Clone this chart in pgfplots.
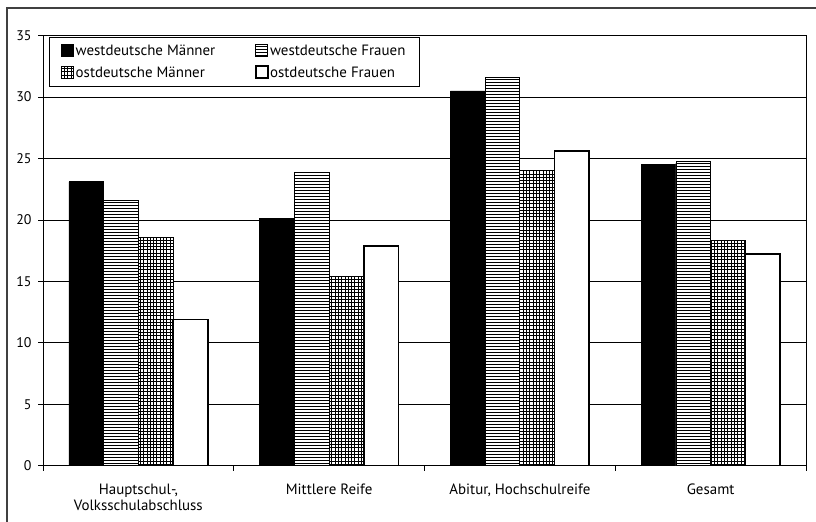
\documentclass[border=0pt]{standalone}
\usepackage{pgfplots}
\pgfplotsset{compat=1.18}
\usetikzlibrary{patterns}
\usepackage{fontspec}
\setmainfont{PT Sans}
\pgfdeclarepatternformonly{hstripes}{\pgfpoint{-1bp}{0bp}}{\pgfpoint{5bp}{3bp}}{\pgfpoint{4bp}{3bp}}{%
  \pgfsetlinewidth{1.4bp}%
  \pgfpathmoveto{\pgfpoint{-1bp}{1.5bp}}\pgfpathlineto{\pgfpoint{5bp}{1.5bp}}\pgfusepath{stroke}}
\pgfdeclarepatternformonly{fgrid}{\pgfpoint{-1bp}{-1bp}}{\pgfpoint{4.3bp}{4.3bp}}{\pgfpoint{3.3bp}{3.3bp}}{%
  \pgfsetlinewidth{0.6bp}%
  \pgfpathmoveto{\pgfpoint{-0.5bp}{1.65bp}}\pgfpathlineto{\pgfpoint{3.8bp}{1.65bp}}%
  \pgfpathmoveto{\pgfpoint{1.65bp}{-0.5bp}}\pgfpathlineto{\pgfpoint{1.65bp}{3.8bp}}\pgfusepath{stroke}}
\pgfplotsset{sqlegend/.style={legend image code/.code={\draw[##1] (0bp,-5bp) rectangle (12bp,7bp);}}}
\begin{document}
\begin{tikzpicture}[x=1bp,y=1bp]
\useasboundingbox (0,0) rectangle (816,522);
\draw[line width=1.2bp, black!75] (7,-10) rectangle (830,514);
\begin{axis}[
  at={(43bp,56.3bp)}, anchor=south west,
  scale only axis, width=763bp, height=430bp,
  xmin=0, xmax=4, ymin=0, ymax=35,
  ytick={0,5,...,35},
  xtick={0,1,2,3,4}, xticklabels={},
  extra x ticks={0.5,1.5,2.5,3.5},
  extra x tick labels={{Hauptschul-,\\Volksschulabschluss},{Mittlere Reife},{Abitur, Hochschulreife},{Gesamt}},
  extra x tick style={major tick length=0pt},
  xticklabel style={align=center, font=\fontsize{15}{15.5}\selectfont, yshift=-15bp},
  yticklabel style={font=\fontsize{14}{16}\selectfont, xshift=-3bp},
  ytick pos=left, xtick pos=bottom,
  tick align=outside, major tick length=5bp,
  tick style={black, line width=0.8bp},
  ymajorgrids, grid style={black, line width=0.8bp},
  axis line style={black, line width=0.8bp},
  /pgf/number format/assume math mode=true,
  ybar=0pt, bar width=34.7bp,
  legend columns=2,
  legend cell align=left,
  legend style={at={(0.0079,0.996)}, anchor=north west, draw=black, line width=0.8bp,
    font=\fontsize{15}{16}\selectfont, row sep=7bp, inner xsep=12bp, inner ysep=6bp,
    nodes={inner xsep=1.5bp, inner ysep=1bp},
    /tikz/every odd column/.append style={column sep=0bp},
    /tikz/every even column/.append style={column sep=38bp}},
]
\addplot[draw=black, fill=black, line width=0.8bp, sqlegend]
  coordinates {(0.5,23.1) (1.5,20.1) (2.5,30.5) (3.5,24.5)};
\addplot[draw=black, line width=0.8bp, preaction={fill=white}, pattern=hstripes, pattern color=black, sqlegend]
  coordinates {(0.5,21.6) (1.5,23.9) (2.5,31.6) (3.5,24.8)};
\addplot[draw=black, line width=0.8bp, preaction={fill=white}, pattern=fgrid, pattern color=black, sqlegend]
  coordinates {(0.5,18.6) (1.5,15.4) (2.5,24.0) (3.5,18.3)};
\addplot[draw=black, fill=white, line width=1.8bp, sqlegend]
  coordinates {(0.5,11.9) (1.5,17.9) (2.5,25.6) (3.5,17.2)};
\legend{westdeutsche Männer, westdeutsche Frauen, ostdeutsche Männer, ostdeutsche Frauen}
\end{axis}
\end{tikzpicture}
\end{document}
